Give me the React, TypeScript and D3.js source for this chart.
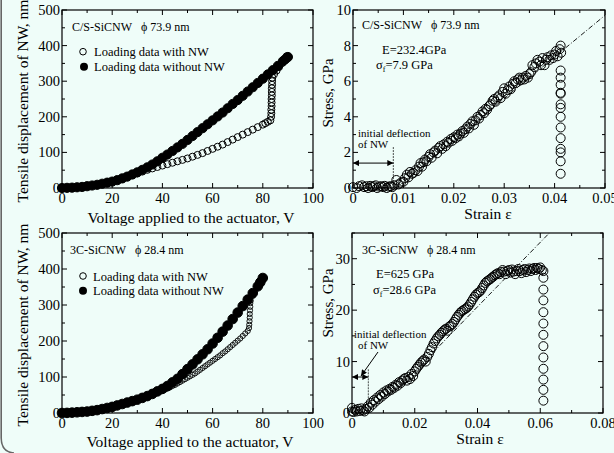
import React from "react";
import * as d3 from "d3";

// ---------------- DATA ----------------
// Top-left: C/S-SiCNW, voltage (V) vs tensile displacement (nm)
const tlWithoutNW: [number, number][] = [
  [0,0],[2,0.5],[4,1],[6,2],[8,3],[10,5],[12,7],[14,9],[16,12],[18,15],[20,18],[22,22],[24,27],[26,32],[28,38],[30,44],
  [32,51],[34,58],[36,66],[38,75],[40,85],[42,94],[44,104],[46,114],[48,124],[50,135],[52,146],[54,157],[56,168],[58,179],
  [60,190],[62,201],[64,212],[66,224],[68,236],[70,247],[72,259],[74,271],[76,283],[78,295],[80,307],[82,319],[84,331],
  [86,343],[88,356],[89,362],[90,368]
];
const tlWithNW: [number, number][] = [
  [0,0],[2,0.5],[4,1],[6,2],[8,3],[10,5],[12,7],[14,9],[16,12],[18,15],[20,18],[22,22],[24,26],[26,31],[28,36],[30,41],
  [32,46],[34,51],[36,55],[38,59],[40,63],[42,67],[44,71],[46,75],[48,79],[50,83],[52,88],[54,93],[56,98],[58,104],[60,110],
  [62,116],[64,122],[66,129],[68,136],[70,143],[72,150],[74,157],[76,164],[78,171],[80,178],[81,182],[82,186],[83,190],
  [83.3,200],[83.4,210],[83.4,220],[83.5,230],[83.5,240],[83.5,250],[83.6,260],[83.6,270],[83.6,280],[83.7,290],[83.7,300],
  [83.8,310],[84.5,320],[85.5,330],[86.5,340],[87.5,350],[88.5,360],[89.5,370]
];

// Bottom-left: 3C-SiCNW
const blWithoutNW: [number, number][] = [
  [0,0],[2,0.3],[4,1],[6,2],[8,3],[10,4],[12,6],[14,8],[16,11],[18,14],[20,17],[22,21],[24,25],[26,29],[28,33],[30,37],
  [32,42],[34,47],[36,53],[38,60],[40,67],[42,75],[44,85],[46,95],[48,108],[50,122],[52,135],[54,149],[56,163],[58,177],
  [60,193],[62,209],[64,226],[66,243],[68,261],[70,279],[72,297],[74,315],[76,333],[78,352],[79,363],[80,375]
];
const blWithNW: [number, number][] = [
  [0,0],[2,0.3],[4,1],[6,2],[8,3],[10,4],[12,6],[14,8],[16,11],[18,14],[20,17],[22,20],[24,24],[26,28],[28,32],[30,36],
  [31,38],[32,40],[33,42],[34,45],[35,47],[36,50],[37,53],[38,56],[39,59],[40,62],[41,65],[42,68],[43,71],[44,75],[45,78],
  [46,82],[47,86],[48,90],[49,94],[50,98],[51,102],[52,106],[53,110],[54,115],[55,120],[56,125],[57,130],[58,135],[59,140],
  [60,145],[61,150],[62,155],[63,160],[64,166],[65,171],[66,177],[67,183],[68,189],[69,195],[70,201],[71,207],[72,214],
  [73,221],[74,228],[74.5,236],[74.6,245],[74.7,255],[74.8,265],[74.8,275],[74.9,285],[75,295],[75,305],[75.2,312],
  [76,325],[77,338],[78,351],[79,363],[80,375]
];

// Top-right: strain vs stress (GPa), C/S-SiCNW
const trStress: [number, number][] = [
  [0,0.05],[0.0007,0.0],[0.0012,0.1],[0.0018,0.15],[0.0022,0.05],[0.0027,0.1],[0.003,0.0],[0.0034,0.12],[0.0038,0.05],
  [0.0041,0.1],[0.0045,0.15],[0.0048,0.0],[0.0052,0.08],[0.0056,0.1],[0.006,0.05],[0.0063,0.12],[0.0067,0.0],[0.0071,0.08],
  [0.0075,0.1],[0.0078,0.05],[0.0082,0.15],[0.0086,0.45],[0.009,0.2],[0.0095,0.3],[0.01,0.35],[0.0103,0.55],[0.0107,0.75],
  [0.011,0.6],[0.0113,0.9],[0.0117,0.8],[0.012,0.85],[0.0124,1.0],[0.0128,0.95],[0.0131,1.2],[0.0134,1.4],[0.0137,1.2],
  [0.014,1.45],[0.0143,1.6],[0.0146,1.5],[0.015,1.75],[0.0153,1.9],[0.0156,1.7],[0.016,2.0],[0.0163,2.1],[0.0167,1.95],
  [0.017,2.25],[0.0173,2.35],[0.0177,2.2],[0.018,2.45],[0.0184,2.35],[0.0187,2.6],[0.019,2.55],[0.0194,2.75],[0.0197,2.65],
  [0.02,2.85],[0.0204,2.8],[0.0207,3.0],[0.021,2.9],[0.0213,3.05],[0.0217,3.2],[0.022,3.1],[0.0223,3.3],[0.0227,3.45],
  [0.023,3.35],[0.0233,3.6],[0.0237,3.75],[0.024,3.55],[0.0243,3.8],[0.0247,4.0],[0.025,3.9],[0.0253,4.1],[0.0257,4.3],
  [0.026,4.2],[0.0263,4.45],[0.0266,4.4],[0.027,4.6],[0.0273,4.7],[0.0277,4.9],[0.028,5.0],[0.0283,4.85],[0.0287,5.1],
  [0.029,5.2],[0.0293,5.05],[0.0297,5.4],[0.03,5.6],[0.0303,5.3],[0.0307,5.5],[0.031,5.7],[0.0313,5.55],[0.0317,5.85],
  [0.032,6.0],[0.0323,5.9],[0.0327,6.1],[0.033,6.2],[0.0333,6.05],[0.0337,6.2],[0.034,6.1],[0.0343,6.3],[0.0347,6.2],
  [0.035,6.4],[0.0353,6.5],[0.0356,6.9],[0.036,6.8],[0.0363,7.0],[0.0366,7.2],[0.037,7.1],[0.0373,6.9],[0.0376,7.3],
  [0.038,6.9],[0.0383,7.2],[0.0386,7.35],[0.039,7.2],[0.0393,7.45],[0.0397,7.3],[0.04,7.5],[0.0403,7.7],[0.0406,7.4],
  [0.041,7.8],[0.0412,8.0],[0.0413,7.6],
  [0.0412,6.6],[0.0412,6.2],[0.0412,5.8],[0.0412,5.35],[0.0412,5.3],[0.0412,4.7],[0.0412,4.5],[0.0412,4.0],[0.0412,3.4],
  [0.0412,2.8],[0.0412,2.2],[0.0412,2.0],[0.0412,1.5],[0.0412,0.8]
];
const trFit: [number, number][] = [[0.0085,0],[0.05,9.7]];

// Bottom-right: strain vs stress (GPa), 3C-SiCNW
const brStress: [number, number][] = [
  [0,0.3],[0,1.0],[0.0005,0.2],[0.001,0.6],[0.0015,0.3],[0.002,0.8],[0.0025,0.4],[0.003,0.9],[0.0035,0.5],[0.004,0.3],
  [0.0045,0.8],[0.005,1.3],[0.0055,1.0],[0.006,2.0],[0.0065,1.6],[0.007,2.5],[0.0075,2.2],[0.008,3.0],[0.0085,2.7],
  [0.009,3.5],[0.0095,3.2],[0.01,4.0],[0.0105,3.7],[0.011,4.4],[0.0115,4.2],[0.012,4.7],[0.0125,4.5],[0.013,5.1],
  [0.0135,4.9],[0.014,5.5],[0.0145,5.3],[0.015,6.0],[0.0155,5.8],[0.016,6.3],[0.0165,6.6],[0.017,6.8],[0.0175,6.3],
  [0.018,7.0],[0.0185,6.6],[0.019,7.6],[0.0195,7.2],[0.02,8.1],[0.0205,8.6],[0.021,9.0],[0.0215,9.4],[0.022,9.8],
  [0.0225,10.1],[0.023,10.4],[0.0235,10.0],[0.024,10.9],[0.0245,11.5],[0.025,12.2],[0.0255,12.8],[0.026,13.5],
  [0.0265,14.0],[0.027,14.5],[0.0275,14.9],[0.028,15.2],[0.0285,15.6],[0.029,15.9],[0.0295,16.2],[0.03,16.4],
  [0.0305,16.0],[0.031,16.8],[0.0315,17.0],[0.032,17.3],[0.0325,17.7],[0.033,18.2],[0.0335,18.7],[0.034,19.1],
  [0.0345,19.5],[0.035,19.8],[0.0355,20.0],[0.036,20.2],[0.0365,20.4],[0.037,20.7],[0.0375,21.1],[0.038,21.6],
  [0.0385,22.1],[0.039,22.6],[0.0395,23.0],[0.04,23.3],[0.0405,23.5],[0.041,23.8],[0.0415,24.3],[0.042,24.8],
  [0.0425,25.3],[0.043,25.6],[0.0435,25.8],[0.044,26.0],[0.0445,26.3],[0.045,26.5],[0.0455,26.8],[0.046,27.0],
  [0.0465,27.2],[0.047,27.0],[0.0475,27.4],[0.048,27.8],[0.0485,27.5],[0.049,27.0],[0.0495,27.6],[0.05,27.8],
  [0.0505,27.3],[0.051,27.9],[0.0515,27.5],[0.052,27.0],[0.0525,27.6],[0.053,28.0],[0.0535,27.6],[0.054,27.2],
  [0.0545,27.8],[0.055,28.0],[0.0555,27.4],[0.056,27.8],[0.0565,28.1],[0.057,27.6],[0.0575,28.0],[0.058,28.2],
  [0.0585,27.8],[0.059,28.2],[0.0595,28.0],[0.06,28.3],[0.0605,27.8],[0.061,27.6],
  [0.061,26.3],[0.061,24.0],[0.061,21.9],[0.061,19.6],[0.061,17.4],[0.061,15.2],[0.061,13.0],[0.061,10.8],[0.061,8.6],
  [0.061,6.5],[0.061,4.5],[0.061,2.4]
];
const brFit: [number, number][] = [[0.019,7.5],[0.0629,35]];

// Axis ticks
const voltTicks = [0, 20, 40, 60, 80, 100];
const voltMinor = [10, 30, 50, 70, 90];
const dispTicks = [0, 100, 200, 300, 400, 500];
const dispMinor = [50, 150, 250, 350, 450];
const trStrainTicks = [0, 0.01, 0.02, 0.03, 0.04, 0.05];
const trStrainMinor = [0.005, 0.015, 0.025, 0.035, 0.045];
const trStressTicks = [0, 2, 4, 6, 8, 10];
const trStressMinor = [1, 3, 5, 7, 9];
const brStrainTicks = [0, 0.02, 0.04, 0.06, 0.08];
const brStrainMinor = [0.01, 0.03, 0.05, 0.07];
const brStressTicks = [0, 10, 20, 30];
const brStressMinor = [5, 15, 25, 35];

// ---------------- LAYOUT ----------------
const W = 614, H = 453;
const BG = "#effdf9";
const FONT = "'Liberation Serif', 'Times New Roman', serif";

type Box = { left: number; right: number; top: number; bottom: number };
const boxTL: Box = { left: 62, right: 313, top: 10, bottom: 188 };
const boxTR: Box = { left: 353, right: 605, top: 10, bottom: 188 };
const boxBL: Box = { left: 62, right: 313, top: 233, bottom: 413 };
const boxBR: Box = { left: 352, right: 603, top: 233, bottom: 413 };

const fmt = (v: number) => (v === 0 ? "0" : String(v));

function Frame({ box, x, y, xMajor, xMinor, yMajor, yMinor }: any) {
  const M = 5, m = 3;
  return (
    <g stroke="#000" strokeWidth={1}>
      {xMajor.map((v: number) => (
        <g key={"xM" + v}>
          <line x1={x(v)} x2={x(v)} y1={box.bottom} y2={box.bottom - M} />
          <line x1={x(v)} x2={x(v)} y1={box.top} y2={box.top + M} />
        </g>
      ))}
      {xMinor.map((v: number) => (
        <g key={"xm" + v}>
          <line x1={x(v)} x2={x(v)} y1={box.bottom} y2={box.bottom - m} />
          <line x1={x(v)} x2={x(v)} y1={box.top} y2={box.top + m} />
        </g>
      ))}
      {yMajor.map((v: number) => (
        <g key={"yM" + v}>
          <line x1={box.left} x2={box.left + M} y1={y(v)} y2={y(v)} />
          <line x1={box.right} x2={box.right - M} y1={y(v)} y2={y(v)} />
        </g>
      ))}
      {yMinor.map((v: number) => (
        <g key={"ym" + v}>
          <line x1={box.left} x2={box.left + m} y1={y(v)} y2={y(v)} />
          <line x1={box.right} x2={box.right - m} y1={y(v)} y2={y(v)} />
        </g>
      ))}
      <rect x={box.left} y={box.top} width={box.right - box.left} height={box.bottom - box.top} fill="none" strokeWidth={1.2} />
      <g stroke="none" fill="#000" fontSize={14.5} fontFamily={FONT}>
        {xMajor.map((v: number) => (
          <text key={"xl" + v} x={x(v)} y={box.bottom + 15} textAnchor="middle">{fmt(v)}</text>
        ))}
        {yMajor.map((v: number) => (
          <text key={"yl" + v} x={box.left - 2} y={y(v) + 5} textAnchor="end">{fmt(v)}</text>
        ))}
      </g>
    </g>
  );
}

function Dots({ data, x, y, r, filled, sw = 1 }: any) {
  return (
    <g>
      {data.map((d: [number, number], i: number) => (
        <circle key={i} cx={x(d[0])} cy={y(d[1])} r={r}
          fill={filled ? "#000" : "none"} stroke="#000" strokeWidth={sw} />
      ))}
    </g>
  );
}

export default function App() {
  const xTL = d3.scaleLinear().domain([0, 100]).range([boxTL.left, boxTL.right]);
  const yTL = d3.scaleLinear().domain([0, 500]).range([boxTL.bottom, boxTL.top]);
  const xBL = d3.scaleLinear().domain([0, 100]).range([boxBL.left, boxBL.right]);
  const yBL = d3.scaleLinear().domain([0, 500]).range([boxBL.bottom, boxBL.top]);
  const xTR = d3.scaleLinear().domain([0, 0.05]).range([boxTR.left, boxTR.right]);
  const yTR = d3.scaleLinear().domain([0, 10]).range([boxTR.bottom, boxTR.top]);
  const xBR = d3.scaleLinear().domain([0, 0.08]).range([boxBR.left, boxBR.right]);
  const yBR = d3.scaleLinear().domain([0, 35]).range([boxBR.bottom, boxBR.top]);

  const lineTR = d3.line<[number, number]>().x(d => xTR(d[0])).y(d => yTR(d[1]));
  const lineBR = d3.line<[number, number]>().x(d => xBR(d[0])).y(d => yBR(d[1]));

  const txt = { fontFamily: FONT, fill: "#000" } as any;

  return (
    <svg width={W} height={H} viewBox={`0 0 ${W} ${H}`}
      style={{ position: "absolute", left: 0, top: 0, display: "block" }}>
      <defs>
        <marker id="ah" viewBox="0 0 10 10" refX="10" refY="5" markerWidth="7" markerHeight="6"
          orient="auto-start-reverse" markerUnits="userSpaceOnUse">
          <path d="M0,0 L10,5 L0,10 z" fill="#000" />
        </marker>
      </defs>
      <rect x={0} y={0} width={W} height={H} fill={BG} />
      <path d="M1.2,0 V438 Q1.2,452 14,453" fill="none" stroke="#666" strokeWidth={1.6} />

      {/* ---------- Top-left ---------- */}
      <Frame box={boxTL} x={xTL} y={yTL} xMajor={voltTicks} xMinor={voltMinor} yMajor={dispTicks} yMinor={dispMinor} />
      <Dots data={tlWithoutNW} x={xTL} y={yTL} r={4.6} filled />
      <Dots data={tlWithNW} x={xTL} y={yTL} r={3.5} />
      <text {...txt} x={72} y={30.5} fontSize={12}>C/S-SiCNW<tspan dx={9}>ϕ 73.9 nm</tspan></text>
      <circle cx={83} cy={51.7} r={3.3} fill="none" stroke="#000" />
      <text {...txt} x={94} y={56} fontSize={12.5}>Loading data with NW</text>
      <circle cx={84} cy={66.7} r={4} fill="#000" />
      <text {...txt} x={94} y={71} fontSize={12.5}>Loading data without NW</text>
      <text {...txt} fontSize={15.5} textAnchor="middle" transform={`translate(28,${(boxTL.top + boxTL.bottom) / 2 + 2}) rotate(-90)`}>Tensile displacement of NW, nm</text>
      <text {...txt} fontSize={15.5} textAnchor="middle" x={191} y={223}>Voltage applied to the actuator, V</text>

      {/* ---------- Top-right ---------- */}
      <Frame box={boxTR} x={xTR} y={yTR} xMajor={trStrainTicks} xMinor={trStrainMinor} yMajor={trStressTicks} yMinor={trStressMinor} />
      <path d={lineTR(trFit) || ""} fill="none" stroke="#000" strokeWidth={0.9} strokeDasharray="5,2,1,2" />
      <Dots data={trStress} x={xTR} y={yTR} r={4.5} />
      <text {...txt} x={362} y={29} fontSize={12}>C/S-SiCNW<tspan dx={9}>ϕ 73.9 nm</tspan></text>
      <text {...txt} x={382} y={54} fontSize={12.5}>E=232.4GPa</text>
      <text {...txt} x={376} y={69} fontSize={12.5}>σ<tspan fontSize={8} dy={3}>f</tspan><tspan dy={-3}>=7.9 GPa</tspan></text>
      <text {...txt} x={358} y={137} fontSize={11}>initial deflection</text>
      <text {...txt} x={358} y={148} fontSize={11}>of NW</text>
      <line x1={xTR(0)} x2={xTR(0.008)} y1={yTR(1.4)} y2={yTR(1.4)} stroke="#000" strokeWidth={1} markerStart="url(#ah)" markerEnd="url(#ah)" />
      <line x1={xTR(0.008)} x2={xTR(0.008)} y1={yTR(2.3)} y2={yTR(0)} stroke="#000" strokeWidth={0.7} strokeDasharray="2,1" />
      <text {...txt} fontSize={15} textAnchor="middle" transform={`translate(333,${(boxTR.top + boxTR.bottom) / 2 - 6}) rotate(-90)`}>Stress, GPa</text>
      <text {...txt} fontSize={15.5} textAnchor="middle" x={488} y={219}>Strain ε</text>

      {/* ---------- Bottom-left ---------- */}
      <Frame box={boxBL} x={xBL} y={yBL} xMajor={voltTicks} xMinor={voltMinor} yMajor={dispTicks} yMinor={dispMinor} />
      <Dots data={blWithoutNW} x={xBL} y={yBL} r={4.8} filled />
      <Dots data={blWithNW} x={xBL} y={yBL} r={2.6} sw={0.9} />
      <text {...txt} x={70} y={254} fontSize={12}>3C-SiCNW<tspan dx={9}>ϕ 28.4 nm</tspan></text>
      <circle cx={83} cy={276} r={3.3} fill="none" stroke="#000" />
      <text {...txt} x={93} y={280.5} fontSize={12.5}>Loading data with NW</text>
      <circle cx={83} cy={290.7} r={4} fill="#000" />
      <text {...txt} x={93} y={295} fontSize={12.5}>Loading data without NW</text>
      <text {...txt} fontSize={15.5} textAnchor="middle" transform={`translate(28,${(boxBL.top + boxBL.bottom) / 2 + 2}) rotate(-90)`}>Tensile displacement of NW, nm</text>
      <text {...txt} fontSize={15.5} textAnchor="middle" x={190} y={447}>Voltage applied to the actuator, V</text>

      {/* ---------- Bottom-right ---------- */}
      <Frame box={boxBR} x={xBR} y={yBR} xMajor={brStrainTicks} xMinor={brStrainMinor} yMajor={brStressTicks} yMinor={brStressMinor} />
      <path d={lineBR(brFit) || ""} fill="none" stroke="#000" strokeWidth={0.9} strokeDasharray="5,2,1,2" />
      <Dots data={brStress} x={xBR} y={yBR} r={4.5} />
      <text {...txt} x={362} y={254} fontSize={12}>3C-SiCNW<tspan dx={9}>ϕ 28.4 nm</tspan></text>
      <text {...txt} x={376} y={278} fontSize={12.5}>E=625 GPa</text>
      <text {...txt} x={373} y={294} fontSize={12.5}>σ<tspan fontSize={8} dy={3}>f</tspan><tspan dy={-3}>=28.6 GPa</tspan></text>
      <text {...txt} x={354} y={338} fontSize={11}>initial deflection</text>
      <text {...txt} x={358} y={349} fontSize={11}>of NW</text>
      <line x1={378} y1={352} x2={361} y2={376} stroke="#000" strokeWidth={1} markerEnd="url(#ah)" />
      <line x1={xBR(0)} x2={xBR(0.0052)} y1={yBR(7)} y2={yBR(7)} stroke="#000" strokeWidth={1} markerStart="url(#ah)" markerEnd="url(#ah)" />
      <line x1={xBR(0.0052)} x2={xBR(0.0052)} y1={yBR(8.5)} y2={yBR(0)} stroke="#000" strokeWidth={0.7} strokeDasharray="2,1" />
      <text {...txt} fontSize={15} textAnchor="middle" transform={`translate(333,303) rotate(-90)`}>Stress, GPa</text>
      <text {...txt} fontSize={15.5} textAnchor="middle" x={480} y={444}>Strain ε</text>
    </svg>
  );
}
